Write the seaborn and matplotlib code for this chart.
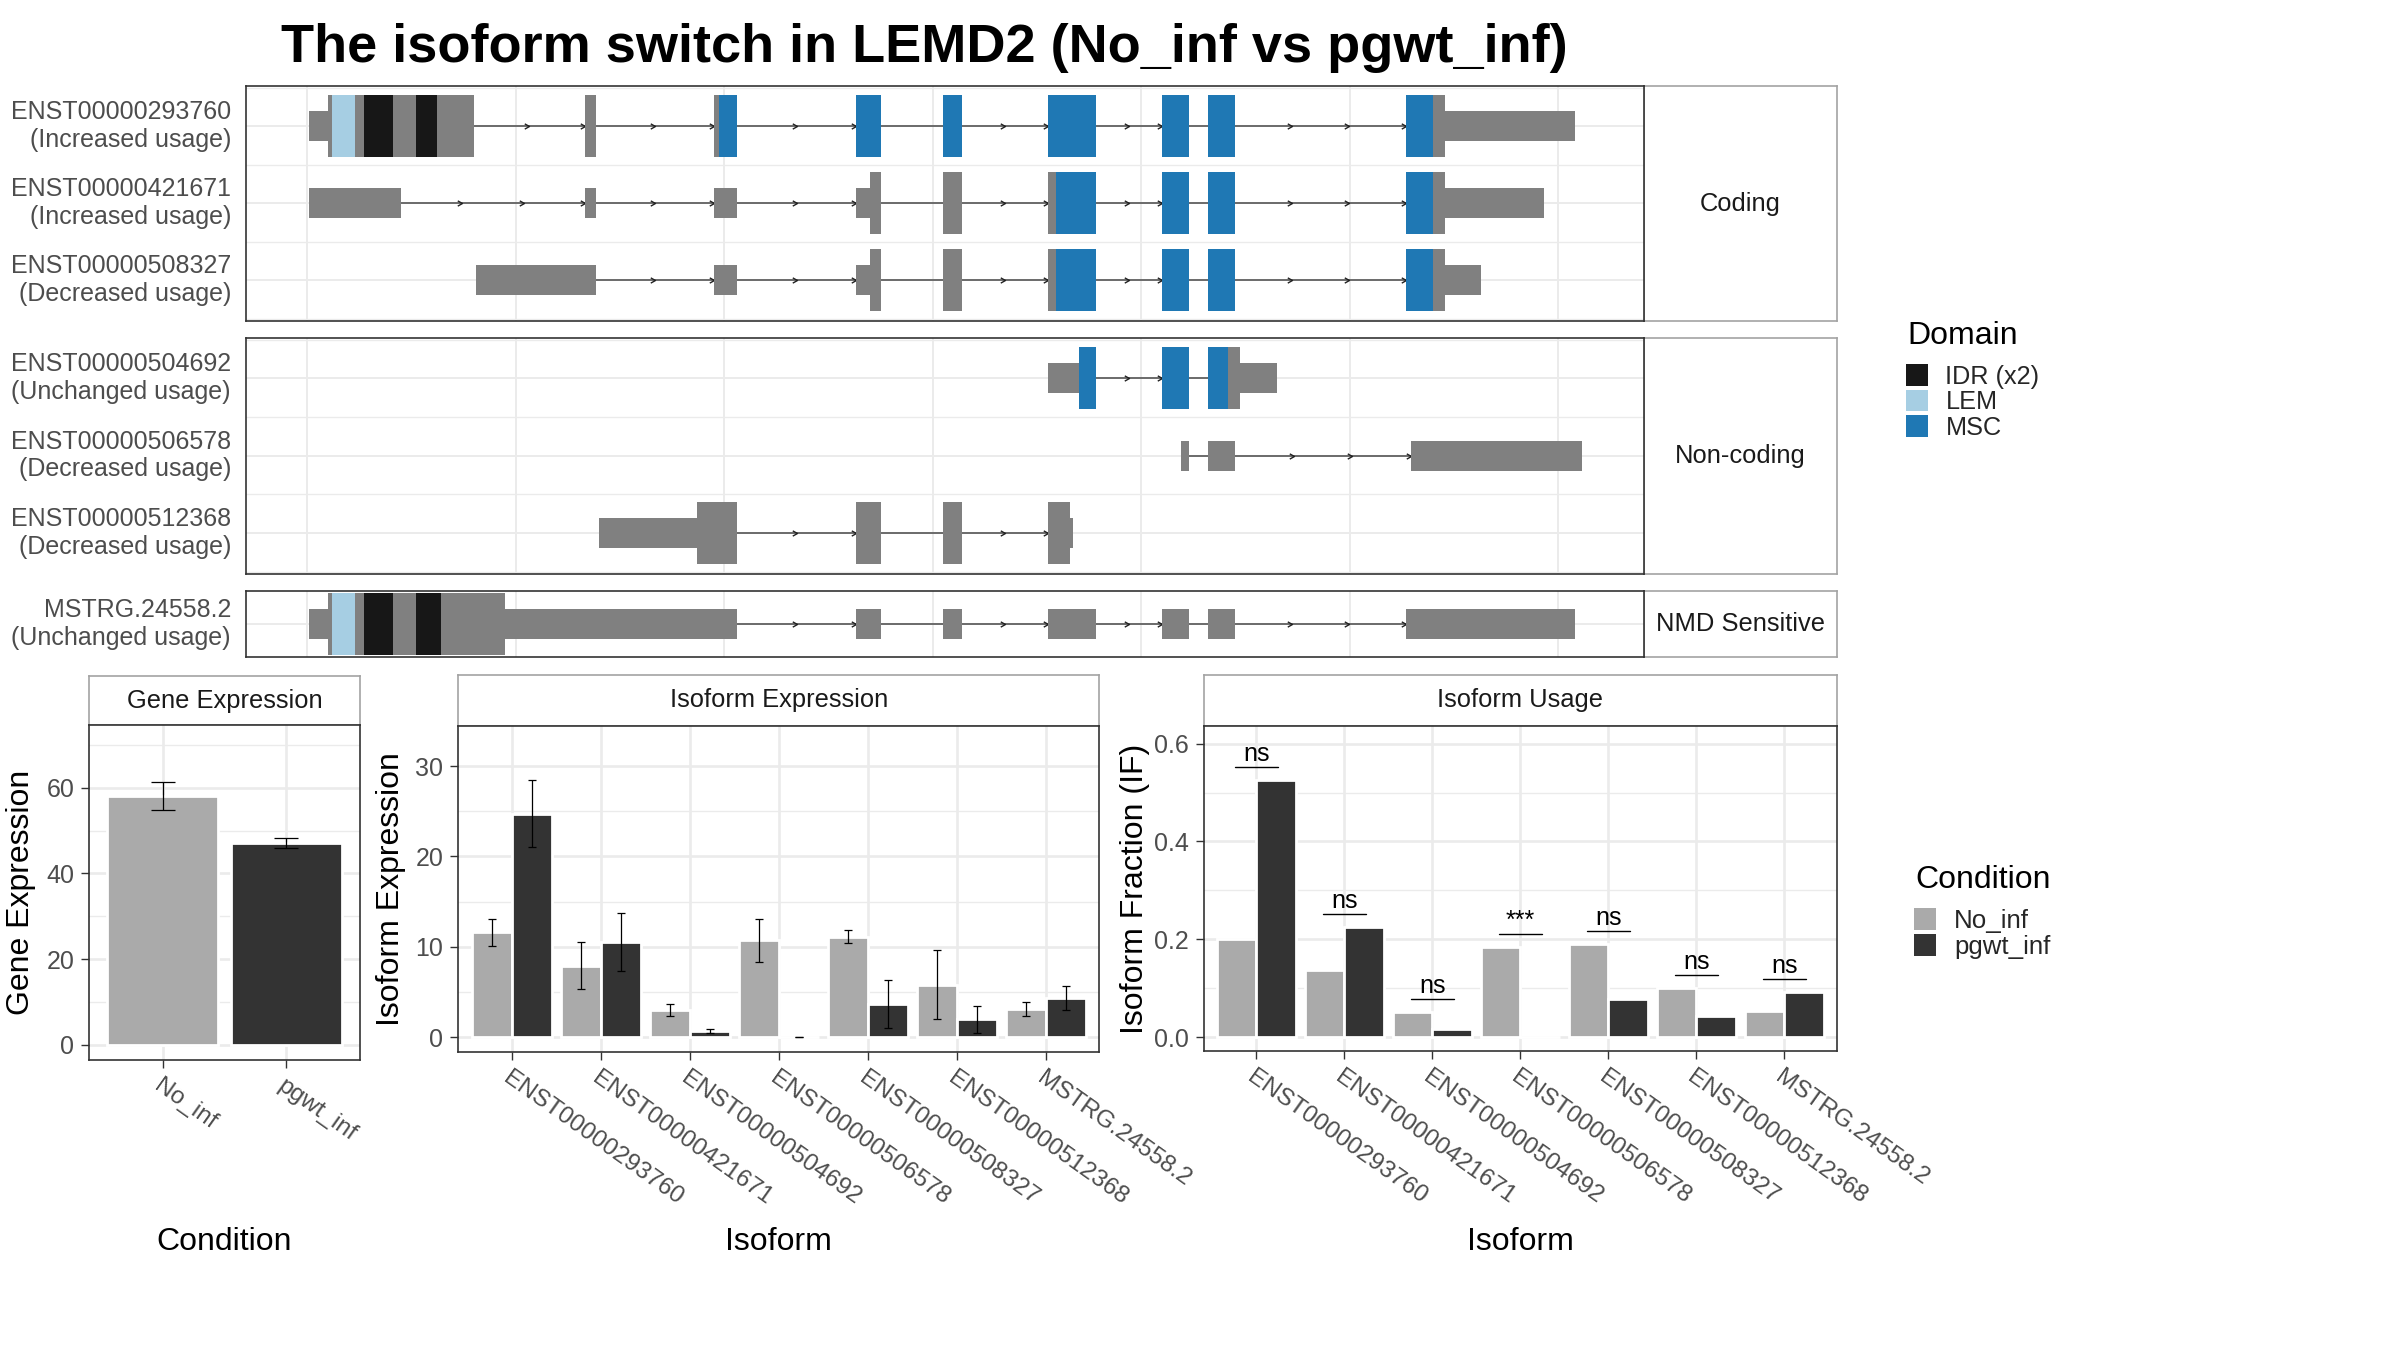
import numpy as np
import pandas as pd
import matplotlib
matplotlib.use("Agg")
import matplotlib.pyplot as plt
import seaborn as sns
from matplotlib.patches import Patch
from matplotlib.path import Path
from matplotlib.ticker import FixedLocator, MultipleLocator, FormatStrFormatter

# ---------------- data ----------------
title = "The isoform switch in LEMD2 (No_inf vs pgwt_inf)"
conditions = ["No_inf", "pgwt_inf"]
isoforms = ["ENST00000293760", "ENST00000421671", "ENST00000504692",
            "ENST00000506578", "ENST00000508327", "ENST00000512368",
            "MSTRG.24558.2"]
usage_change = ["Increased usage", "Increased usage", "Unchanged usage",
                "Decreased usage", "Decreased usage", "Decreased usage",
                "Unchanged usage"]
class_names = ["Coding", "Non-coding", "NMD Sensitive"]
class_members = [["ENST00000293760", "ENST00000421671", "ENST00000508327"],
                 ["ENST00000504692", "ENST00000506578", "ENST00000512368"],
                 ["MSTRG.24558.2"]]

# exon coordinates (plot units), coding region and protein domains
exons = {
    "ENST00000293760": [(10, 800), (1333, 1386), (1952, 2062), (2633, 2751), (3050, 3140),
                        (3554, 3783), (4101, 4229), (4321, 4449), (5271, 6081)],
    "ENST00000421671": [(10, 451), (1333, 1386), (1952, 2062), (2633, 2751), (3050, 3140),
                        (3554, 3783), (4101, 4229), (4321, 4449), (5271, 5933)],
    "ENST00000508327": [(810, 1386), (1952, 2062), (2633, 2751), (3050, 3140),
                        (3554, 3783), (4101, 4229), (4321, 4449), (5271, 5631)],
    "ENST00000504692": [(3554, 3783), (4101, 4229), (4321, 4652)],
    "ENST00000506578": [(4192, 4229), (4321, 4449), (5295, 6115)],
    "ENST00000512368": [(1400, 2062), (2633, 2751), (3050, 3140), (3554, 3674)],
    "MSTRG.24558.2": [(10, 2062), (2633, 2751), (3050, 3140), (3554, 3783),
                      (4101, 4229), (4321, 4449), (5271, 6081)],
}
cds = {
    "ENST00000293760": (102, 5458),
    "ENST00000421671": (2700, 5458),
    "ENST00000508327": (2700, 5458),
    "ENST00000504692": (3702, 4475),
    "ENST00000512368": (1870, 3659),
    "MSTRG.24558.2": (102, 950),
}
domains = {
    "ENST00000293760": [("LEM", 120, 230), ("IDR (x2)", 273, 414), ("IDR (x2)", 523, 623), ("MSC", 1976, 5400)],
    "ENST00000421671": [("MSC", 3592, 5400)],
    "ENST00000508327": [("MSC", 3592, 5400)],
    "ENST00000504692": [("MSC", 3702, 4417)],
    "MSTRG.24558.2": [("LEM", 120, 230), ("IDR (x2)", 273, 414), ("IDR (x2)", 523, 643)],
}
domain_names = ["IDR (x2)", "LEM", "MSC"]

gene_expr = [58.0, 47.1]
gene_expr_err = [3.3, 1.2]
iso_expr_no = [11.6, 7.9, 3.0, 10.7, 11.1, 5.8, 3.1]
iso_expr_no_err = [1.5, 2.6, 0.7, 2.35, 0.7, 3.85, 0.75]
iso_expr_pg = [24.7, 10.5, 0.66, 0.0, 3.65, 1.96, 4.3]
iso_expr_pg_err = [3.7, 3.2, 0.2, 0.0, 2.7, 1.5, 1.3]
iso_if_no = [0.200, 0.137, 0.051, 0.184, 0.190, 0.100, 0.053]
iso_if_pg = [0.526, 0.225, 0.016, 0.0, 0.078, 0.043, 0.092]
sig_labels = ["ns", "ns", "ns", "***", "ns", "ns", "ns"]

# ---------------- style ----------------
sns.set_theme(style="white")
plt.rcParams["font.family"] = ["Liberation Sans", "DejaVu Sans"]

COND_PAL = {"No_inf": "#AAAAAA", "pgwt_inf": "#333333"}
DOM_PAL = {"IDR (x2)": "#171717", "LEM": "#A6CEE3", "MSC": "#1F78B4"}
EXON = "#808080"
INTRON = "#555555"
GRID = "#EBEBEB"
BORDER = "#333333"
STRIP_BORDER = "#A3A3A3"
TICKTXT = "#4D4D4D"
AXIS_TITLE = 11.5
STRIP_SIZE = 9.2

W, H, DPI = 2400, 1350, 200
fig = plt.figure(figsize=(W / DPI, H / DPI), dpi=DPI)
fig.patch.set_facecolor("white")


def add_ax(x0, y0, x1, y1):
    return fig.add_axes([x0 / W, 1 - y1 / H, (x1 - x0) / W, (y1 - y0) / H])


def strip(x0, y0, x1, y1, text):
    a = add_ax(x0, y0, x1, y1)
    a.set_xticks([])
    a.set_yticks([])
    a.set_facecolor("white")
    for s in a.spines.values():
        s.set_color(STRIP_BORDER)
        s.set_linewidth(0.6)
    a.text(0.5, 0.5, text, ha="center", va="center", fontsize=STRIP_SIZE,
           color="#1A1A1A", transform=a.transAxes)
    return a


def style_spines(a, lw=0.6):
    for s in a.spines.values():
        s.set_color(BORDER)
        s.set_linewidth(lw)
        s.set_visible(True)


CHEVRON = Path([(-1.8, 1.0), (0.0, 0.0), (-1.8, -1.0)],
               [Path.MOVETO, Path.LINETO, Path.LINETO])


def overlap(ex, a, b):
    out = []
    for s, e in ex:
        lo, hi = max(s, a), min(e, b)
        if hi > lo:
            out.append((lo, hi))
    return out


def draw_structure(a, members, ylim):
    for r, iso in enumerate(members):
        ex = exons[iso]
        for (s0, e0), (s1, e1) in zip(ex[:-1], ex[1:]):
            a.plot([e0, s1], [r, r], color=INTRON, lw=0.6, solid_capstyle="butt", zorder=2)
            L = s1 - e0
            n = 0 if L < 310 else (2 if L < 700 else 3)
            if n:
                xs = [e0 + L * k / n for k in range(1, n + 1)]
                a.plot(xs, [r] * n, ls="none", marker=CHEVRON, ms=3.4, mew=0.5,
                       mec="#222222", mfc="none", zorder=2.5)
        a.barh([r] * len(ex), [e - s for s, e in ex], left=[s for s, e in ex],
               height=0.39, color=EXON, linewidth=0, zorder=3)
        if iso in cds:
            parts = overlap(ex, *cds[iso])
            a.barh([r] * len(parts), [e - s for s, e in parts], left=[s for s, e in parts],
                   height=0.8, color=EXON, linewidth=0, zorder=3)
        for name, d0, d1 in domains.get(iso, []):
            parts = overlap(ex, d0, d1)
            a.barh([r] * len(parts), [e - s for s, e in parts], left=[s for s, e in parts],
                   height=0.8, color=DOM_PAL[name], linewidth=0, zorder=4)
    a.set_xlim(-293, 6412)
    a.set_ylim(*ylim)
    a.set_facecolor("white")
    a.xaxis.set_major_locator(MultipleLocator(1000))
    a.set_yticks(range(len(members)))
    a.yaxis.set_minor_locator(FixedLocator(np.arange(-0.5, len(members), 1.0)))
    a.set_yticklabels([f"{iso}\n({usage_change[isoforms.index(iso)]})" for iso in members],
                      fontsize=9, color=TICKTXT, linespacing=1.19)
    for lbl in a.get_yticklabels():
        lbl.set_va("center")
    a.tick_params(axis="y", which="both", length=0, pad=5.4, left=False)
    a.tick_params(axis="x", which="both", length=0, bottom=False, labelbottom=False)
    a.grid(which="major", color=GRID, lw=0.7, zorder=0)
    a.grid(which="minor", axis="y", color=GRID, lw=0.5, zorder=0)
    a.set_axisbelow(True)
    style_spines(a, 0.6)


# ---------------- title ----------------
fig.text(924.5 / W, 1 - 61.7 / H, title, ha="center", va="baseline",
         fontsize=19.5, fontweight="bold", color="black")

# ---------------- transcript structures ----------------
panel_rows = [(86, 321, (2.53, -0.52)), (338, 574, (2.53, -0.52)), (591, 657, (0.43, -0.43))]
for (y0, y1, yl), cname, members in zip(panel_rows, class_names, class_members):
    strip(1644, y0, 1837, y1, cname)
    a = add_ax(246, y0, 1644, y1)
    draw_structure(a, members, yl)


# ---------------- bottom bar charts ----------------
def bottom_axes(x0, y0, x1, y1, strip_y0, strip_text):
    strip(x0, strip_y0, x1, y0, strip_text)
    a = add_ax(x0, y0, x1, y1)
    a.set_facecolor("white")
    return a


def finish_bar_axes(a, ncat, ylim, major, minor, ylabel, xlabel, ylab_x, xlab_y, fmt=None):
    a.set_xlim(-0.6, ncat - 0.4)
    a.set_ylim(*ylim)
    a.yaxis.set_major_locator(FixedLocator(major))
    a.yaxis.set_minor_locator(MultipleLocator(minor))
    if fmt:
        a.yaxis.set_major_formatter(FormatStrFormatter(fmt))
    a.grid(which="major", color=GRID, lw=0.95)
    a.grid(which="minor", axis="y", color=GRID, lw=0.5)
    a.set_axisbelow(True)
    a.tick_params(axis="both", which="major", length=2.75, width=0.5, color=BORDER,
                  bottom=True, left=True, pad=2.6)
    a.tick_params(axis="both", which="minor", length=0)
    a.tick_params(axis="y", labelsize=9, labelcolor=TICKTXT)
    a.tick_params(axis="x", labelsize=8.8, labelcolor=TICKTXT)
    for lbl in a.get_xticklabels():
        lbl.set_rotation(-35.4)
        lbl.set_ha("left")
        lbl.set_va("top")
        lbl.set_rotation_mode("anchor")
    a.set_ylabel(ylabel, fontsize=AXIS_TITLE, color="black", va="center")
    a.yaxis.set_label_coords(ylab_x, 0.5)
    a.set_xlabel(xlabel, fontsize=AXIS_TITLE, color="black", va="baseline")
    a.xaxis.set_label_coords(0.5, xlab_y)
    style_spines(a, 0.6)


def add_errorbars(a, values, errs, capsize):
    pts = sorted(a.patches, key=lambda p: p.get_x())
    xs = [p.get_x() + p.get_width() / 2 for p in pts]
    a.errorbar(xs, values, yerr=errs, fmt="none", ecolor="black", elinewidth=0.45,
               capsize=capsize, capthick=0.45, zorder=5)


# Gene expression
ax_g = bottom_axes(89, 725, 360, 1060, 676, "Gene Expression")
df_g = pd.DataFrame({"Condition": conditions, "value": gene_expr})
sns.barplot(data=df_g, x="Condition", y="value", hue="Condition", order=conditions,
            hue_order=conditions, palette=COND_PAL, width=0.9, saturation=1,
            errorbar=None, legend=False, ax=ax_g, zorder=2)
add_errorbars(ax_g, gene_expr, gene_expr_err, 4.15)
finish_bar_axes(ax_g, len(conditions), (-3.5, 74.6), [0, 20, 40, 60], 10, "Gene Expression",
                "Condition", (21.5 - 89) / 271, (1060 - 1250) / 335)

# Isoform expression
ax_e = bottom_axes(458.3, 726, 1099.2, 1052, 675, "Isoform Expression")
df_e = pd.DataFrame({"Isoform": isoforms * 2,
                     "Condition": [conditions[0]] * len(isoforms) + [conditions[1]] * len(isoforms),
                     "value": iso_expr_no + iso_expr_pg})
sns.barplot(data=df_e, x="Isoform", y="value", hue="Condition", order=isoforms,
            hue_order=conditions, palette=COND_PAL, width=0.9, saturation=1,
            errorbar=None, legend=False, ax=ax_e, zorder=2)
inter_v = [v for pair in zip(iso_expr_no, iso_expr_pg) for v in pair]
inter_e = [v for pair in zip(iso_expr_no_err, iso_expr_pg_err) for v in pair]
add_errorbars(ax_e, inter_v, inter_e, 1.6)
finish_bar_axes(ax_e, len(isoforms), (-1.66, 34.43), [0, 10, 20, 30], 5, "Isoform Expression",
                "Isoform", (391 - 458.3) / 640.9, (1052 - 1250) / 326)

# Isoform usage
ax_u = bottom_axes(1203.5, 726, 1837, 1051, 675, "Isoform Usage")
df_u = pd.DataFrame({"Isoform": isoforms * 2,
                     "Condition": [conditions[0]] * len(isoforms) + [conditions[1]] * len(isoforms),
                     "value": iso_if_no + iso_if_pg})
sns.barplot(data=df_u, x="Isoform", y="value", hue="Condition", order=isoforms,
            hue_order=conditions, palette=COND_PAL, width=0.9, saturation=1,
            errorbar=None, legend=False, ax=ax_u, zorder=2)
for i, (a_, b_, lab) in enumerate(zip(iso_if_no, iso_if_pg, sig_labels)):
    ly = max(a_, b_) + 0.027
    ax_u.plot([i - 0.242, i + 0.242], [ly, ly], color="black", lw=0.5, zorder=5)
    ax_u.text(i, ly + 0.0015, lab, ha="center", va="bottom", fontsize=9, color="black", zorder=6)
finish_bar_axes(ax_u, len(isoforms), (-0.0286, 0.636), [0.0, 0.2, 0.4, 0.6], 0.1,
                "Isoform Fraction (IF)", "Isoform", (1135 - 1203.5) / 633.5,
                (1051 - 1250) / 325, fmt="%.1f")

# ---------------- legends ----------------
fig.text(1907 / W, 1 - 344 / H, "Domain", fontsize=AXIS_TITLE, ha="left", va="baseline", color="black")
dom_handles = [Patch(facecolor=DOM_PAL[n], edgecolor="none") for n in domain_names]
fig.legend(dom_handles, domain_names, loc="upper left", bbox_to_anchor=(1906 / W, 1 - 364 / H),
           frameon=False, fontsize=9.1, handlelength=0.88, handleheight=0.95,
           handletextpad=0.68, labelspacing=0.04, borderpad=0, borderaxespad=0)

fig.text(1915 / W, 1 - 888 / H, "Condition", fontsize=AXIS_TITLE, ha="left", va="baseline", color="black")
cond_handles = [Patch(facecolor=COND_PAL[c], edgecolor="none") for c in conditions]
fig.legend(cond_handles, conditions, loc="upper left", bbox_to_anchor=(1914 / W, 1 - 908 / H),
           frameon=False, fontsize=9.3, handlelength=0.86, handleheight=0.93,
           handletextpad=0.7, labelspacing=0.04, borderpad=0, borderaxespad=0)

fig.savefig("out.png", dpi=DPI, facecolor="white")
